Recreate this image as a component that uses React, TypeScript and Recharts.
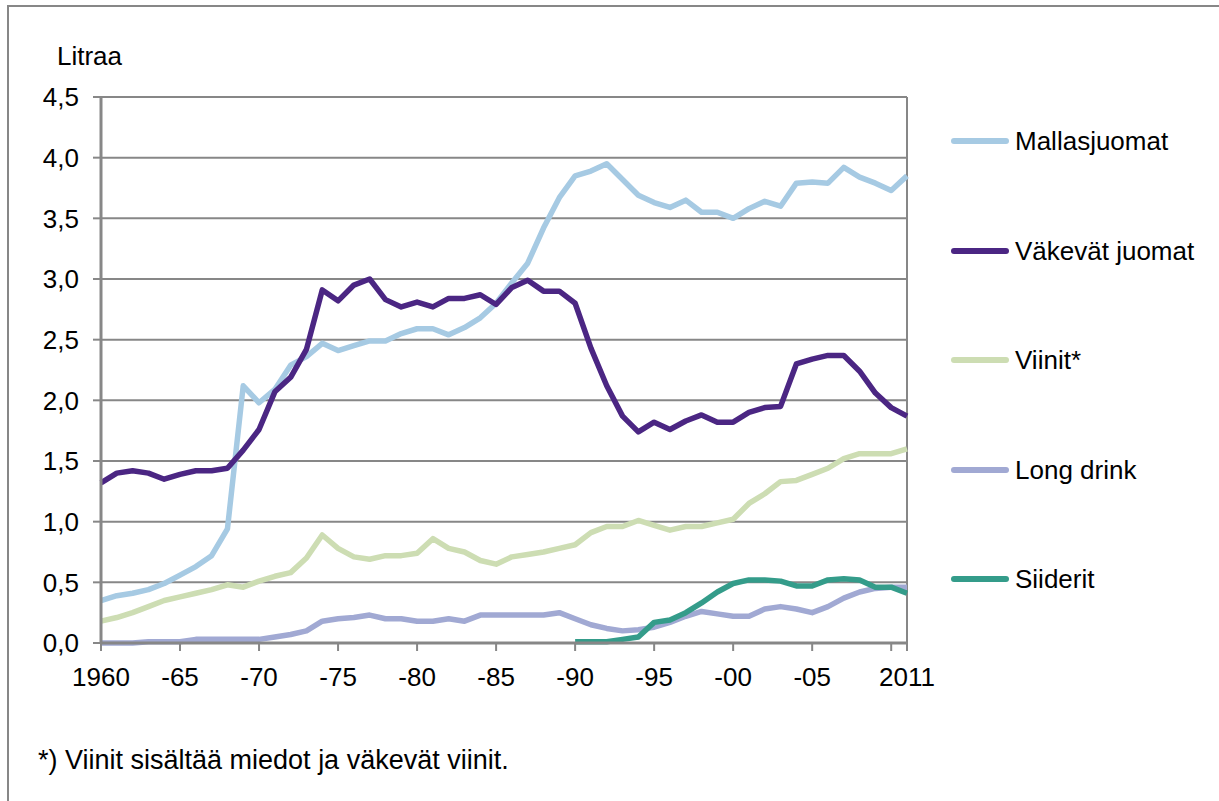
import React from 'react';
import { LineChart, Line, XAxis, YAxis, CartesianGrid, ReferenceLine } from 'recharts';

const years = [
  1960, 1961, 1962, 1963, 1964, 1965, 1966, 1967, 1968, 1969,
  1970, 1971, 1972, 1973, 1974, 1975, 1976, 1977, 1978, 1979,
  1980, 1981, 1982, 1983, 1984, 1985, 1986, 1987, 1988, 1989,
  1990, 1991, 1992, 1993, 1994, 1995, 1996, 1997, 1998, 1999,
  2000, 2001, 2002, 2003, 2004, 2005, 2006, 2007, 2008, 2009,
  2010, 2011,
];

const mallasjuomat = [
  0.35, 0.39, 0.41, 0.44, 0.49, 0.56, 0.63, 0.72, 0.94, 2.12,
  1.98, 2.09, 2.29, 2.36, 2.47, 2.41, 2.45, 2.49, 2.49, 2.55,
  2.59, 2.59, 2.54, 2.60, 2.68, 2.80, 2.97, 3.13, 3.42, 3.67,
  3.85, 3.89, 3.95, 3.82, 3.69, 3.63, 3.59, 3.65, 3.55, 3.55,
  3.50, 3.58, 3.64, 3.60, 3.79, 3.80, 3.79, 3.92, 3.84, 3.79,
  3.73, 3.85,
];

const vakevat = [
  1.32, 1.40, 1.42, 1.40, 1.35, 1.39, 1.42, 1.42, 1.44, 1.59,
  1.76, 2.07, 2.19, 2.42, 2.91, 2.82, 2.95, 3.00, 2.83, 2.77,
  2.81, 2.77, 2.84, 2.84, 2.87, 2.79, 2.93, 2.99, 2.90, 2.90,
  2.80, 2.43, 2.12, 1.87, 1.74, 1.82, 1.76, 1.83, 1.88, 1.82,
  1.82, 1.90, 1.94, 1.95, 2.30, 2.34, 2.37, 2.37, 2.24, 2.06,
  1.94, 1.87,
];

const viinit = [
  0.18, 0.21, 0.25, 0.30, 0.35, 0.38, 0.41, 0.44, 0.48, 0.46,
  0.51, 0.55, 0.58, 0.70, 0.89, 0.78, 0.71, 0.69, 0.72, 0.72,
  0.74, 0.86, 0.78, 0.75, 0.68, 0.65, 0.71, 0.73, 0.75, 0.78,
  0.81, 0.91, 0.96, 0.96, 1.01, 0.97, 0.93, 0.96, 0.96, 0.99,
  1.02, 1.15, 1.23, 1.33, 1.34, 1.39, 1.44, 1.52, 1.56, 1.56,
  1.56, 1.60,
];

const longDrink = [
  0.00, 0.00, 0.00, 0.01, 0.01, 0.01, 0.03, 0.03, 0.03, 0.03,
  0.03, 0.05, 0.07, 0.10, 0.18, 0.20, 0.21, 0.23, 0.20, 0.20,
  0.18, 0.18, 0.20, 0.18, 0.23, 0.23, 0.23, 0.23, 0.23, 0.25,
  0.20, 0.15, 0.12, 0.10, 0.11, 0.13, 0.17, 0.22, 0.26, 0.24,
  0.22, 0.22, 0.28, 0.30, 0.28, 0.25, 0.30, 0.37, 0.42, 0.45,
  0.46, 0.46,
];

const siiderit = [
  null, null, null, null, null, null, null, null, null, null,
  null, null, null, null, null, null, null, null, null, null,
  null, null, null, null, null, null, null, null, null, null,
  0.01, 0.01, 0.01, 0.03, 0.05, 0.17, 0.19, 0.25, 0.33, 0.42,
  0.49, 0.52, 0.52, 0.51, 0.47, 0.47, 0.52, 0.53, 0.52, 0.46,
  0.46, 0.41,
];

const xTicks = [1960, 1965, 1970, 1975, 1980, 1985, 1990, 1995, 2000, 2005, 2010, 2011];
const yTicks = [0, 0.5, 1, 1.5, 2, 2.5, 3, 3.5, 4, 4.5];

const seriesList = [
  { key: 'mallas', name: 'Mallasjuomat', color: '#a6cae3' },
  { key: 'vakevat', name: 'Väkevät juomat', color: '#4b2683' },
  { key: 'viinit', name: 'Viinit*', color: '#cdddb3' },
  { key: 'long', name: 'Long drink', color: '#a1a9d3' },
  { key: 'siiderit', name: 'Siiderit', color: '#349c8a' },
];

const data = years.map((y, i) => ({
  year: y,
  mallas: mallasjuomat[i],
  vakevat: vakevat[i],
  viinit: viinit[i],
  long: longDrink[i],
  siiderit: siiderit[i],
}));

const FONT = 'Arial, "Liberation Sans", sans-serif';
const GRID = '#878787';

function formatYear(v: number) {
  if (v === 1960 || v === 2011) return String(v);
  if (v === 2010) return '';
  return '-' + String(v).slice(2);
}

// legend drawn beside the plot, items spaced like the original
function LegendBox() {
  return (
    <div style={{ position: 'absolute', left: 951, top: 124, width: 268, height: 560 }}>
      {seriesList.map((s, i) => (
        <div
          key={s.key}
          style={{ position: 'absolute', left: 0, top: i * 109.5, height: 34, display: 'flex', alignItems: 'center' }}
        >
          <svg width={58} height={10} style={{ display: 'block' }}>
            <line x1={3} y1={5} x2={55} y2={5} stroke={s.color} strokeWidth={6} strokeLinecap="round" />
          </svg>
          <span style={{ marginLeft: 6, fontSize: 26, color: '#000', whiteSpace: 'nowrap', lineHeight: '26px' }}>
            {s.name}
          </span>
        </div>
      ))}
    </div>
  );
}

export default function App() {
  return (
    <div style={{ position: 'absolute', left: 0, top: 0, width: 1219, height: 801, background: '#fff', fontFamily: FONT, overflow: 'hidden' }}>
      <div
        style={{
          position: 'absolute', left: 7, top: 5, width: 1212, height: 796,
          borderLeft: `2px solid ${GRID}`, borderTop: `2px solid ${GRID}`, boxSizing: 'border-box',
        }}
      />
      <div style={{ position: 'absolute', left: 57, top: 43, fontSize: 26, lineHeight: '26px', color: '#000' }}>
        Litraa
      </div>
      <div style={{ position: 'absolute', left: 0, top: 0 }}>
        <LineChart width={1219} height={801} data={data} margin={{ top: 97, right: 312, bottom: 118, left: 41 }}>
          <CartesianGrid vertical={false} stroke={GRID} strokeWidth={2} />
          <XAxis
            dataKey="year"
            type="number"
            domain={[1960, 2011]}
            ticks={xTicks}
            interval={0}
            tickFormatter={formatYear}
            height={40}
            stroke={GRID}
            strokeWidth={3}
            tickSize={8}
            tickMargin={17}
            tick={{ fill: '#000', fontSize: 26, fontFamily: FONT }}
            tickLine={{ stroke: GRID, strokeWidth: 2 }}
          />
          <YAxis
            domain={[0, 4.5]}
            ticks={yTicks}
            interval={0}
            width={60}
            tickFormatter={(v: number) => v.toFixed(1).replace('.', ',')}
            stroke={GRID}
            strokeWidth={3}
            tickSize={8}
            tickMargin={14}
            tick={{ fill: '#000', fontSize: 26, fontFamily: FONT }}
            tickLine={{ stroke: GRID, strokeWidth: 2 }}
          />
          <ReferenceLine x={2011} stroke={GRID} strokeWidth={2} />
          {seriesList.map((s) => (
            <Line
              key={s.key}
              dataKey={s.key}
              name={s.name}
              stroke={s.color}
              strokeWidth={5.5}
              dot={false}
              activeDot={false}
              strokeLinejoin="round"
              isAnimationActive={false}
            />
          ))}
        </LineChart>
      </div>
      <LegendBox />
      <div style={{ position: 'absolute', left: 38, top: 747, fontSize: 27, lineHeight: '27px', color: '#000' }}>
        *) Viinit sisältää miedot ja väkevät viinit.
      </div>
    </div>
  );
}
